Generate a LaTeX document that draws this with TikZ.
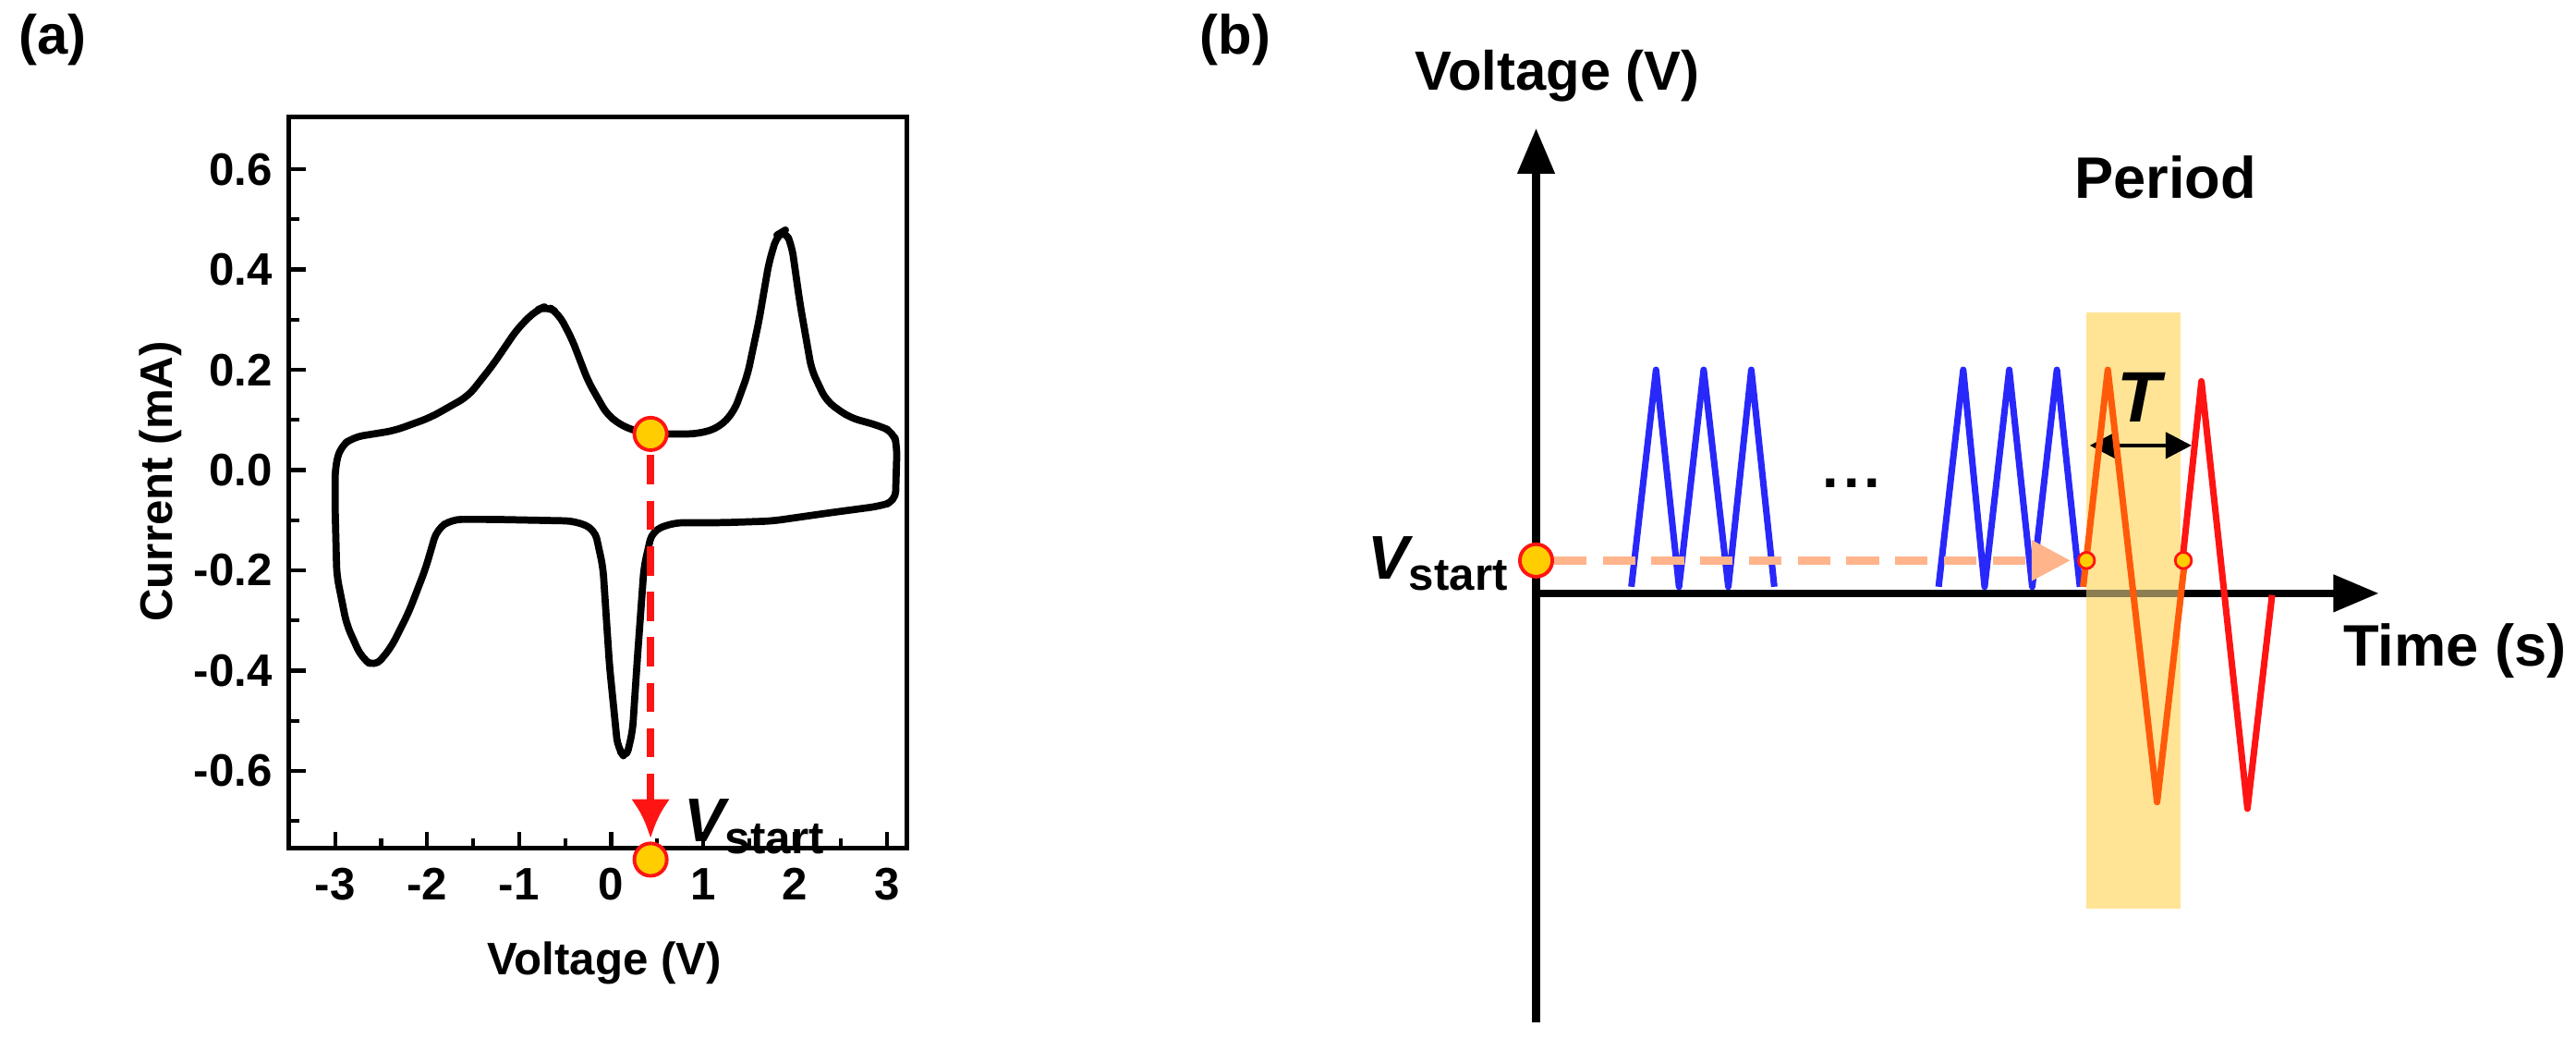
\documentclass[tikz,border=0pt]{standalone}
\usepackage{fontspec}
\setmainfont{Liberation Sans}
\usetikzlibrary{arrows.meta}
\definecolor{myblue}{RGB}{40,40,250}
\definecolor{myorange}{RGB}{255,90,10}
\definecolor{myred}{RGB}{255,20,20}
\definecolor{band}{RGB}{255,228,150}
\definecolor{peach}{RGB}{255,180,140}
\definecolor{dotfill}{RGB}{255,205,0}
\tikzset{
  lbl/.style={font=\bfseries\fontsize{14}{16}\selectfont, inner sep=0pt},
  dot/.style={circle, fill=dotfill, draw=myred, line width=1.1pt, inner sep=0pt, minimum size=#1},
}
\begin{document}
\begin{tikzpicture}[x=0.017781cm, y=-0.017781cm]
\useasboundingbox (0,0) rectangle (1568,632);
% ---------- panel (a)
\node[font=\bfseries\fontsize{17}{19}\selectfont] (pa) at (32,24) {(a)};
\draw[line width=1.4pt] (176,71) rectangle (552,516);
\foreach \v/\t in {0.6/0.6,0.4/0.4,0.2/0.2,0/0.0,-0.2/-0.2,-0.4/-0.4,-0.6/-0.6}{
  \draw[line width=1.2pt] (176,{286-305*\v}) -- ++(10,0);
  \node[lbl, anchor=east] at (166,{286-305*\v}) {\t};
}
\foreach \v in {0.5,0.3,0.1,-0.1,-0.3,-0.5,-0.7}{
  \draw[line width=1.2pt] (176,{286-305*\v}) -- ++(6,0);
}
\foreach \v in {-3,-2,-1,0,1,2,3}{
  \draw[line width=1.2pt] ({372+56*\v},516) -- ++(0,-10);
  \node[lbl, anchor=north] at ({372+56*\v},528) {\v};
}
\foreach \v in {-2.5,-1.5,-0.5,0.5,1.5,2.5}{
  \draw[line width=1.2pt] ({372+56*\v},516) -- ++(0,-6);
}
\node[lbl, rotate=90] (ylab) at (98,293) {Current (mA)};
\node[lbl] (xlab) at (368,586) {Voltage (V)};
\draw[line width=2.2pt, line join=round, rounded corners=3pt]
  (207,272) -- (215,266) -- (240,262) -- (262,254) -- (285,241) -- (300,222) -- (315,200) -- (326,189) -- (333,186) -- (340,191)
  -- (348,206) -- (358,232) -- (370,253) -- (382,261) -- (397,264) -- (425,264) -- (438,260) -- (447,250) -- (455,228)
  -- (462,195) -- (468,160) -- (473,143) -- (478,140) -- (482,150) -- (487,185) -- (494,225) -- (503,244) -- (517,254)
  -- (535,259) -- (544,263) -- (546,272) -- (545,305) -- (535,308) -- (505,312) -- (470,317) -- (440,318) -- (410,318)
  -- (397,323) -- (392,345) -- (388,400) -- (385,445) -- (381,462) -- (376,455) -- (371,405) -- (367,345) -- (362,322)
  -- (350,317) -- (300,316) -- (275,316) -- (266,322) -- (259,346) -- (249,372) -- (238,394) -- (228,406) -- (220,400)
  -- (211,380) -- (205,350) -- (204,310) -- (204,285) -- cycle;
\node[dot=10pt] (ca) at (396,264) {};
\node[dot=10pt] (cb) at (396,523) {};
\draw[myred, line width=2.4pt, dash pattern=on 9pt off 5pt, -{Latex[length=12pt,width=12pt]}, shorten <=1pt, shorten >=1pt] (ca) -- (cb);
\node[inner sep=0pt, anchor=west] (vsa) at (416,503) {\bfseries\itshape\fontsize{19}{21}\selectfont V\raisebox{-0.35ex}{\upshape\fontsize{14}{16}\selectfont start}};
% ---------- panel (b)
\node[font=\bfseries\fontsize{17}{19}\selectfont] (pb) at (752,24) {(b)};
\fill[band] (1270,190) rectangle (1327,553);
\coordinate (o) at (935,361);
\coordinate (ytop) at (935,78);
\coordinate (ybot) at (935,622);
\coordinate (xend) at (1448,361);
\draw[line width=2.4pt, -{Triangle[length=14pt,width=11pt]}] (ybot) -- (ytop);
\draw[line width=2.4pt, -{Triangle[length=14pt,width=11pt]}] (o) -- (xend);
\fill[band, opacity=0.55] (1270,357) rectangle (1327,365);
\node[inner sep=0pt, font=\bfseries\fontsize{17}{19}\selectfont] (vl) at (948,46) {Voltage (V)};
\node[inner sep=0pt, font=\bfseries\fontsize{18}{20}\selectfont, anchor=west] (tl) at (1426,396) {Time (s)};
\node[inner sep=0pt, font=\bfseries\fontsize{18}{20}\selectfont] (per) at (1318,108) {Period};
\node[inner sep=0pt] (T) at (1302,242) {\bfseries\itshape\fontsize{22}{24}\selectfont T};
\coordinate (ta) at (1272,271);
\coordinate (tb) at (1334,271);
\draw[line width=1.2pt, {Triangle[length=8pt,width=8pt]}-{Triangle[length=8pt,width=8pt]}] (ta) -- (tb);
\node[inner sep=0pt, font=\bfseries\fontsize{18}{20}\selectfont] (dots) at (1127,294) {.\kern1.5pt.\kern1.5pt.};
\draw[myblue, line width=2pt, line join=round]
  (993,357) -- (1008,225) -- (1022,357) -- (1037,225) -- (1052,357) -- (1066,225) -- (1080,357);
\draw[myblue, line width=2pt, line join=round]
  (1180,357) -- (1195,225) -- (1208,357) -- (1223,225) -- (1237,357) -- (1252,225) -- (1266,357);
\draw[myred, line width=2pt, line join=round]
  (1328,345) -- (1340,232) -- (1368,492) -- (1383,362);
\draw[myorange, line width=2pt, line join=round]
  (1268,357) -- (1283,225) -- (1313,488) -- (1330,340);
\node[dot=10pt] (vs) at (935,341) {};
\node[dot=5pt, line width=0.8pt] (s1) at (1270,341) {};
\node[dot=5pt, line width=0.8pt] (s2) at (1329,341) {};
\draw[peach, line width=2.4pt, dash pattern=on 10pt off 5pt, -{Triangle[length=12pt,width=12pt]}] (vs) -- ([xshift=-2pt]s1.west);
\node[inner sep=0pt, anchor=east] (vsb) at (918,343) {\bfseries\itshape\fontsize{19}{21}\selectfont V\raisebox{-0.35ex}{\upshape\fontsize{14}{16}\selectfont start}};
\end{tikzpicture}
\end{document}
